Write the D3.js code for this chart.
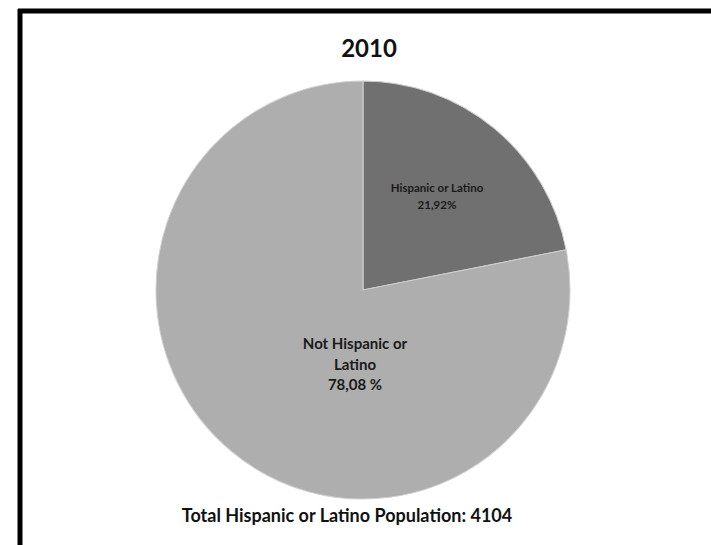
<!DOCTYPE html>
<html><head><meta charset="utf-8">
<script src="https://cdn.jsdelivr.net/npm/d3@7"></script>
<style>body{margin:0;background:#fff}svg{display:block}</style>
</head><body>
<svg id="c" width="711" height="545"></svg>
<script>
const title = "2010";
const categories = ["Hispanic or Latino", "Not Hispanic or Latino"];
const values = [21.92, 78.08];
const valueLabels = ["21,92%", "78,08 %"];
const labelLines = [["Hispanic or Latino"], ["Not Hispanic or", "Latino"]];
const footer = "Total Hispanic or Latino Population: 4104";
const colors = ["#707070", "#aeaeae"];

const svg = d3.select("#c");
svg.append("rect").attr("x", 0).attr("y", 0).attr("width", 711).attr("height", 545).attr("fill", "#fff");
svg.append("line").attr("x1", 18).attr("x2", 711).attr("y1", 11).attr("y2", 11).attr("stroke", "#000").attr("stroke-width", 5);
svg.append("line").attr("x1", 20).attr("x2", 20).attr("y1", 9).attr("y2", 545).attr("stroke", "#000").attr("stroke-width", 5);

svg.append("text").attr("x", 369).attr("y", 57).attr("text-anchor", "middle")
  .attr("font-family", "Lato, sans-serif").attr("font-weight", "bold").attr("font-size", 24)
  .attr("fill", "#111").text(title);

const cx = 363, cy = 290, r = 207;
const g = svg.append("g").attr("transform", `translate(${cx},${cy}) scale(1,1.01)`);
const pie = d3.pie().sort(null).value(d => d)(values);
const arc = d3.arc().innerRadius(0).outerRadius(r);
g.selectAll("path").data(pie).join("path")
  .attr("d", arc).attr("fill", (d, i) => colors[i])
  .attr("stroke", "#cfcfcf").attr("stroke-width", 1);

const lab = [
  {x: 437, y: 192, size: 11.5, lh: 17},
  {x: 355, y: 349, size: 15, lh: 20.5}
];
values.forEach((v, i) => {
  const lines = labelLines[i].concat([valueLabels[i]]);
  const t = svg.append("text").attr("text-anchor", "middle")
    .attr("font-family", "Lato, sans-serif").attr("font-weight", "bold")
    .attr("font-size", lab[i].size).attr("fill", "#1a1a1a");
  lines.forEach((s, k) => t.append("tspan").attr("x", lab[i].x).attr("y", lab[i].y + k * lab[i].lh).text(s));
});

svg.append("text").attr("x", 347).attr("y", 522).attr("text-anchor", "middle")
  .attr("font-family", "Lato, sans-serif").attr("font-weight", "bold").attr("font-size", 18)
  .attr("fill", "#111").text(footer);
</script>
</body></html>
